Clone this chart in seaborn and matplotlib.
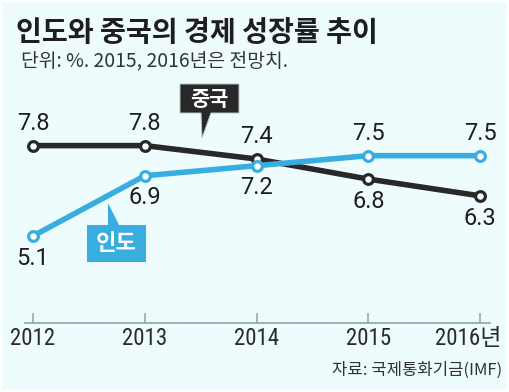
import matplotlib
matplotlib.use("Agg")
import matplotlib.pyplot as plt
import seaborn as sns
import pandas as pd
from matplotlib import font_manager
from matplotlib.patches import Polygon, Rectangle
from matplotlib.transforms import ScaledTranslation

# ---- data ----
years = [2012, 2013, 2014, 2015, 2016]
year_labels = ["2012", "2013", "2014", "2015", "2016년"]
china = [7.8, 7.8, 7.4, 6.8, 6.3]
india = [5.1, 6.9, 7.2, 7.5, 7.5]
china_label_pos = ["above", "above", "above", "below", "below"]
india_label_pos = ["below", "below", "below", "above", "above"]

title = "인도와 중국의 경제 성장률 추이"
subtitle = "단위: %. 2015, 2016년은 전망치."
source = "자료: 국제통화기금(IMF)"
china_name = "중국"
india_name = "인도"

BG = "#effcfd"
BLUE = "#38ade0"
DARK = "#282828"
AXIS = "#8ea2a8"
W, H = 509, 392


def pick_font(cands, default):
    names = {f.name for f in font_manager.fontManager.ttflist}
    for c in cands:
        if c in names:
            return c
    return default


narrow = pick_font(["Liberation Sans Narrow", "DejaVu Sans Condensed",
                    "Roboto Condensed", "Arial Narrow", "Open Sans Condensed"],
                   "Liberation Sans")
narrow_is_real = narrow != "Liberation Sans"

sns.set_theme(style="white")
plt.rcParams["font.family"] = ["Noto Sans CJK KR", "DejaVu Sans"]

fig = plt.figure(figsize=(W / 100, H / 100), dpi=100, facecolor=BG)


def fx(px):
    return px / W


def fy(py):
    return 1 - py / H


ax = fig.add_axes([fx(25), fy(322.7), (490 - 25) / W, (322.7 - 80) / H])
ax.set_facecolor("none")

df_c = pd.DataFrame({"year": years, "value": china})
df_i = pd.DataFrame({"year": years, "value": india})

common = dict(marker="o", markerfacecolor="white", markersize=7,
              markeredgewidth=2.3, linewidth=4.0)
sns.lineplot(data=df_c, x="year", y="value", ax=ax, color=DARK,
             markeredgecolor=DARK, zorder=3, **common)
sns.lineplot(data=df_i, x="year", y="value", ax=ax, color=BLUE,
             markeredgecolor=BLUE, zorder=4, **common)

num_font = ["Roboto", "Liberation Sans", "DejaVu Sans"]
for xs, ys, pos in [(years, china, china_label_pos), (years, india, india_label_pos)]:
    for x, y, p in zip(xs, ys, pos):
        off = 16 if p == "above" else -16
        ax.annotate(f"{y:.1f}", (x, y), xytext=(0, off), textcoords="offset points",
                    ha="center", va="center", fontsize=17, color="#1e1e1e",
                    family=num_font, zorder=5)

ax.set_xlim(2011.928, 2016.089)
ax.set_ylim(2.512, 9.759)
ax.set_xticks(years)
ax.set_xticklabels(year_labels)
ax.set_yticks([])
ax.set_xlabel("")
ax.set_ylabel("")
for s in ["left", "right", "top"]:
    ax.spines[s].set_visible(False)
ax.spines["bottom"].set_color(AXIS)
ax.spines["bottom"].set_linewidth(1.2)
ax.tick_params(axis="x", direction="in", length=7.5, width=1.1, color=AXIS,
               pad=3, bottom=True)
for lab in ax.get_xticklabels():
    lab.set_fontfamily([narrow, "Noto Sans CJK KR"])
    lab.set_fontsize(16.5 if narrow_is_real else 14)
    lab.set_color("#2a2a2a")
last = ax.get_xticklabels()[-1]
last.set_horizontalalignment("right")
last.set_transform(last.get_transform() + ScaledTranslation(0.21, 0, fig.dpi_scale_trans))

# callouts
china_box = [(180, 84), (239, 84), (239, 113), (211, 113), (202, 138), (201, 113), (180, 113)]
fig.add_artist(Polygon([(fx(a), fy(b)) for a, b in china_box], closed=True,
                       transform=fig.transFigure, facecolor=DARK, edgecolor="#b8c4c6",
                       linewidth=0.7, zorder=10))
fig.text(fx(209.5), fy(99), china_name, ha="center", va="center", color="white",
         fontsize=15, fontweight="bold", zorder=11)

india_box = [(87, 225), (108, 225), (108, 203), (119, 225), (146, 225), (146, 262), (87, 262)]
fig.add_artist(Polygon([(fx(a), fy(b)) for a, b in india_box], closed=True,
                       transform=fig.transFigure, facecolor=BLUE, edgecolor="none",
                       zorder=10))
fig.text(fx(116.5), fy(244), india_name, ha="center", va="center", color="white",
         fontsize=16, fontweight="bold", zorder=11)

# titles
fig.text(fx(16), fy(40.5), title, ha="left", va="baseline", fontsize=20.3,
         fontweight="bold", color="#1e1e1e")
fig.text(fx(21), fy(66.5), subtitle, ha="left", va="baseline", fontsize=13.9,
         fontweight="light", color="#333333")
fig.text(fx(502), fy(375), source, ha="right", va="baseline", fontsize=12,
         fontweight="light", color="#333333")

# thin white frame
fig.add_artist(Rectangle((0, 0), 1, 1, transform=fig.transFigure, facecolor="none",
                         edgecolor="white", linewidth=3, zorder=20))

fig.savefig("out.png", dpi=100, facecolor=BG)
